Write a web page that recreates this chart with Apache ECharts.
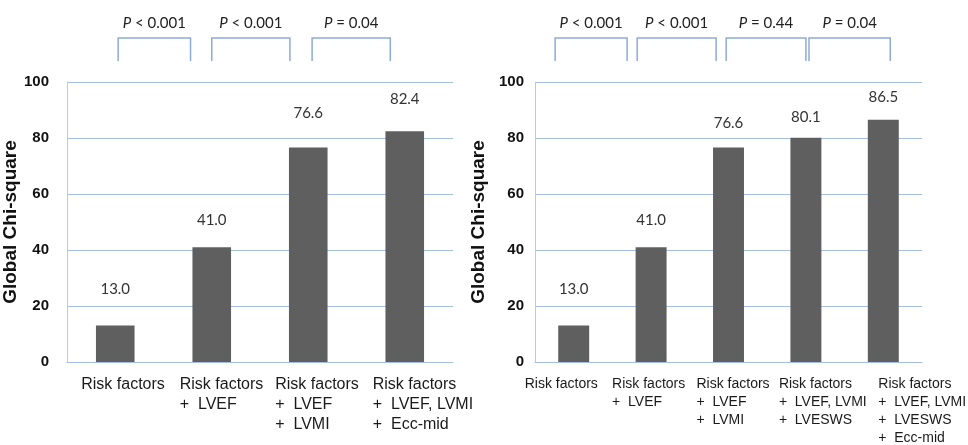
<!DOCTYPE html>
<html>
<head>
<meta charset="utf-8">
<script src="https://cdn.jsdelivr.net/npm/echarts@6/dist/echarts.min.js"></script>
<style>html,body{margin:0;padding:0;background:#fff}#c{width:968px;height:445px}</style>
</head>
<body>
<div id="c"></div>
<script>
// ---- data ----
var leftCategories = ['Risk factors', 'Risk factors\n+  LVEF', 'Risk factors\n+  LVEF\n+  LVMI', 'Risk factors\n+  LVEF, LVMI\n+  Ecc-mid'];
var leftValues = [13.0, 41.0, 76.6, 82.4];
var rightCategories = ['Risk factors', 'Risk factors\n+  LVEF', 'Risk factors\n+  LVEF\n+  LVMI', 'Risk factors\n+  LVEF, LVMI\n+  LVESWS', 'Risk factors\n+  LVEF, LVMI\n+  LVESWS\n+  Ecc-mid'];
var rightValues = [13.0, 41.0, 76.6, 80.1, 86.5];
var yTicks = [0, 20, 40, 60, 80, 100];
var leftPValues = ['< 0.001', '< 0.001', '= 0.04'];
var rightPValues = ['< 0.001', '< 0.001', '= 0.44', '= 0.04'];
var yName = 'Global Chi-square';

// ---- styles / layout (not data) ----
var leftLabelGap = [29, 20, 27, 25];
var rightLabelGap = [29, 20, 17, 13, 15];
var leftXLabelShift = [-34, -32, -33, -32];
var rightXLabelShift = [-49, -39, -32, -27, -5];
// bracket spans in category units (relative to category index)
var leftBrackets = [[0.03, 0.78], [1.0, 1.81], [2.04, 2.85]];
var rightBrackets = [[-0.24, 0.69], [0.82, 1.84], [1.97, 3.0], [3.04, 4.09]];

var BLUE = '#a6bde6';
var BRACKET = '#8eaadb';
var BAR = '#5f5f5f';

function items(vals, gaps) {
  return vals.map(function (v, i) {
    return { value: v, label: { distance: gaps[i] } };
  });
}

function yAxis(gridIndex, gap, margin) {
  return {
    type: 'value', gridIndex: gridIndex, min: yTicks[0], max: yTicks[yTicks.length - 1], interval: 20,
    name: yName, nameLocation: 'middle', nameGap: gap,
    nameTextStyle: { fontFamily: 'Liberation Sans', fontWeight: 'bold', fontSize: 19, color: '#111' },
    axisLine: { show: true, lineStyle: { color: '#c8c8c8', width: 1 } },
    axisTick: { show: false },
    axisLabel: { fontFamily: 'Liberation Sans', fontWeight: 'bold', fontSize: 15, color: '#111', margin: margin },
    splitLine: { lineStyle: { color: BLUE, width: 1 } }
  };
}
function xAxis(gridIndex, cats) {
  return {
    type: 'category', gridIndex: gridIndex, data: cats,
    axisLine: { show: true, lineStyle: { color: BLUE, width: 1 } },
    axisTick: { show: false },
    axisLabel: { show: false }
  };
}
function barSeries(idx, vals, gaps) {
  return {
    type: 'bar', xAxisIndex: idx, yAxisIndex: idx, data: items(vals, gaps), barWidth: '40%',
    itemStyle: { color: BAR },
    label: {
      show: true, position: 'top', fontFamily: 'Lato', fontSize: 15, color: '#333',
      formatter: function (p) { return p.value.toFixed(1); }
    },
    silent: true, animation: false
  };
}

var chart = echarts.init(document.getElementById('c'), null, { renderer: 'canvas' });
chart.setOption({
  animation: false,
  grid: [
    { left: 67, right: 515, top: 82, bottom: 83 },
    { left: 535, right: 46, top: 82, bottom: 83 }
  ],
  xAxis: [xAxis(0, leftCategories), xAxis(1, rightCategories)],
  yAxis: [yAxis(0, 46, 18), yAxis(1, 47, 11)],
  series: [barSeries(0, leftValues, leftLabelGap), barSeries(1, rightValues, rightLabelGap)]
});

function buildGraphics(idx, cats, shifts, fontSize, lineHeight, brackets, pvals) {
  var els = [];
  var c0 = chart.convertToPixel({ xAxisIndex: idx }, cats[0]);
  var c1 = chart.convertToPixel({ xAxisIndex: idx }, cats[1]);
  var band = c1 - c0;
  var y0 = chart.convertToPixel({ yAxisIndex: idx }, 0);
  cats.forEach(function (cat, i) {
    var cx = chart.convertToPixel({ xAxisIndex: idx }, cat);
    els.push({
      type: 'text', silent: true,
      x: cx + shifts[i], y: y0 + 13,
      style: {
        text: cat, fontFamily: 'Liberation Sans', fontSize: fontSize, lineHeight: lineHeight,
        fill: '#1a1a1a', align: 'left', verticalAlign: 'top'
      }
    });
  });
  brackets.forEach(function (b, i) {
    var xa = c0 + b[0] * band, xb = c0 + b[1] * band;
    els.push({
      type: 'polyline', silent: true,
      shape: { points: [[xa, 61], [xa, 38], [xb, 38], [xb, 61]] },
      style: { stroke: BRACKET, lineWidth: 1.5, fill: null }
    });
    els.push({
      type: 'text', silent: true,
      x: (xa + xb) / 2, y: 23,
      style: {
        text: '{i|P} ' + pvals[i],
        rich: { i: { fontStyle: 'italic', fontFamily: 'Lato', fontSize: 15, fill: '#222' } },
        fontFamily: 'Lato', fontSize: 15, fill: '#222', align: 'center', verticalAlign: 'middle'
      }
    });
  });
  return els;
}

var g = [].concat(
  buildGraphics(0, leftCategories, leftXLabelShift, 16, 20, leftBrackets, leftPValues),
  buildGraphics(1, rightCategories, rightXLabelShift, 14, 18, rightBrackets, rightPValues)
);
chart.setOption({ graphic: g });
</script>
</body>
</html>
